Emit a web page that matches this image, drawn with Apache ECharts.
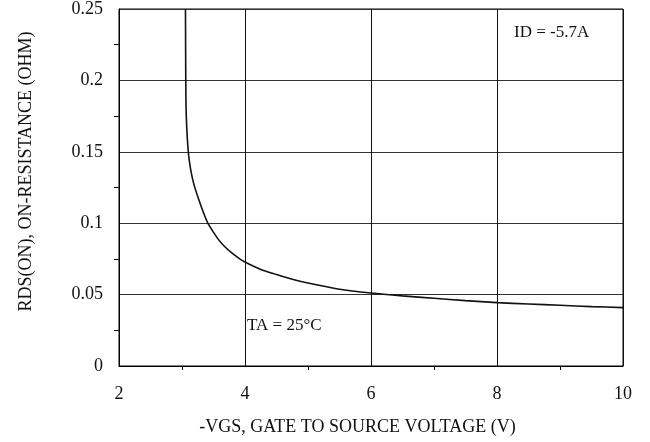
<!DOCTYPE html>
<html>
<head>
<meta charset="utf-8">
<script src="https://cdn.jsdelivr.net/npm/echarts@6/dist/echarts.min.js"></script>
<style>
html,body{margin:0;padding:0;background:#fff;}
#chart{width:650px;height:442px;}
</style>
</head>
<body>
<div id="chart"></div>
<script>
var vgs = [3.055, 3.06, 3.068, 3.10, 3.14, 3.19, 3.27, 3.34, 3.41, 3.49, 3.58, 3.68, 3.80, 3.90, 4.0, 4.25, 4.5, 4.75, 5.0, 5.5, 6.0, 6.5, 7.0, 7.5, 8.0, 8.5, 9.0, 9.5, 10.0];
var rds = [0.25, 0.20, 0.175, 0.15, 0.137, 0.127, 0.116, 0.1075, 0.100, 0.0943, 0.0885, 0.0835, 0.0788, 0.0756, 0.0728, 0.0676, 0.0641, 0.0608, 0.0581, 0.0538, 0.0511, 0.0491, 0.0474, 0.0458, 0.0444, 0.0434, 0.0425, 0.0416, 0.0409];
var xTicks = [2, 4, 6, 8, 10];
var yTicks = [0, 0.05, 0.1, 0.15, 0.2, 0.25];
var xTitle = '-VGS, GATE TO SOURCE VOLTAGE (V)';
var yTitle = 'RDS(ON), ON-RESISTANCE (OHM)';
var noteID = 'ID = -5.7A';
var noteTA = 'TA = 25°C';

var font = '"Liberation Serif", "DejaVu Serif", serif';
var chart = echarts.init(document.getElementById('chart'));
var pts = vgs.map(function (v, i) { return [v, rds[i]]; });

chart.setOption({
  animation: false,
  backgroundColor: '#fff',
  grid: { left: 119, right: 27, top: 7.5, bottom: 76, show: true, borderColor: '#000', borderWidth: 1 },
  xAxis: {
    type: 'value', min: xTicks[0], max: xTicks[xTicks.length - 1], interval: 2,
    axisLine: { show: true, lineStyle: { color: '#000', width: 1 } },
    axisTick: { show: false },
    minorTick: { show: true, splitNumber: 2, length: 4, lineStyle: { color: '#000' } },
    axisLabel: { color: '#111', fontFamily: font, fontSize: 18, margin: 19 },
    splitLine: { show: true, lineStyle: { color: '#111', width: 1 } },
    name: xTitle, nameLocation: 'middle', nameGap: 52,
    nameTextStyle: { color: '#111', fontFamily: font, fontSize: 18, padding: [0, 27, 0, 0] }
  },
  yAxis: {
    type: 'value', min: yTicks[0], max: yTicks[yTicks.length - 1], interval: 0.05,
    axisLine: { show: true, lineStyle: { color: '#000', width: 1 } },
    axisTick: { show: false },
    minorTick: { show: true, splitNumber: 2, length: 5, lineStyle: { color: '#000' } },
    axisLabel: { color: '#111', fontFamily: font, fontSize: 18, margin: 16 },
    splitLine: { show: true, lineStyle: { color: '#333', width: 1 } },
    name: yTitle, nameLocation: 'middle', nameGap: 84, nameRotate: 90,
    nameTextStyle: { color: '#111', fontFamily: font, fontSize: 18, padding: [0, 0, 0, 32] }
  },
  series: [{
    type: 'line', data: pts, showSymbol: false, smooth: 0.25,
    lineStyle: { color: '#111', width: 1.6 }
  }],
  graphic: [
    { type: 'text', left: 514, top: 24, style: { text: noteID, font: '17px ' + font, fill: '#111' } },
    { type: 'text', left: 246, top: 315, style: { text: noteTA, font: '17px ' + font, fill: '#111', backgroundColor: '#fff', padding: [2, 1, 2, 1] } }
  ]
});
</script>
</body>
</html>
